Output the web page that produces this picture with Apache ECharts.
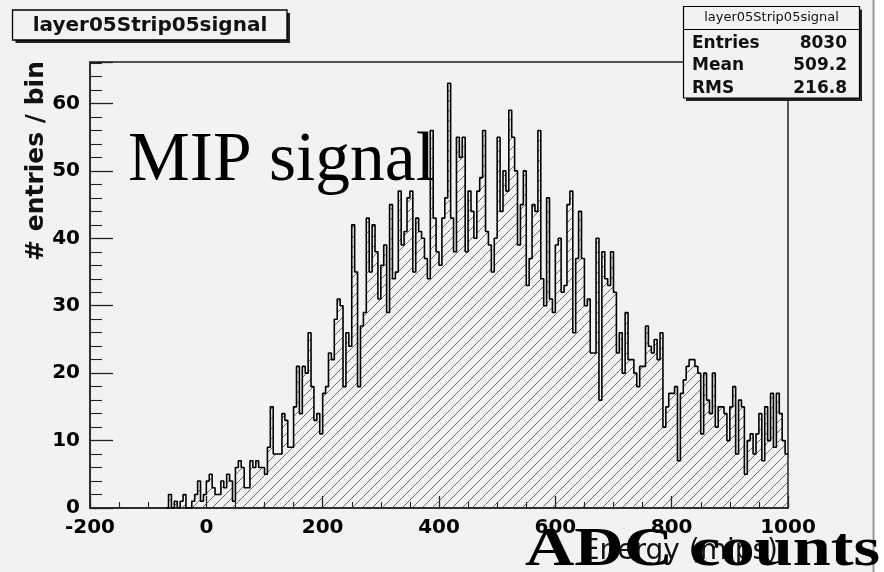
<!DOCTYPE html>
<html>
<head>
<meta charset="utf-8">
<title>layer05Strip05signal</title>
<script src="https://cdn.jsdelivr.net/npm/echarts/dist/echarts.min.js"></script>
<style>
  html, body { margin: 0; padding: 0; background: #f2f2f2; }
  #chart { width: 884px; height: 572px; }
</style>
</head>
<body>
<div id="chart"></div>
<script>
// Histogram binning: 5-unit bins starting at -70
const binLow = -70;
const binWidth = 5;

// Entries per bin, from -70 up to 1000
const counts = [
  0, 2, 0, 1, 0, 1, 2, 0, 0, 1,
  2, 4, 1, 2, 4, 5, 3, 2, 2, 4,
  3, 5, 4, 1, 6, 7, 6, 3, 3, 7,
  6, 7, 6, 6, 5, 9, 15, 8, 8, 8,
  14, 13, 9, 9, 15, 21, 14, 21, 20, 26,
  18, 13, 14, 11, 17, 18, 23, 22, 28, 31,
  30, 18, 26, 24, 42, 35, 18, 27, 29, 43,
  35, 42, 38, 31, 36, 39, 29, 45, 34, 35,
  47, 39, 41, 46, 47, 35, 43, 41, 40, 37,
  34, 56, 43, 38, 36, 43, 46, 63, 43, 38,
  55, 52, 55, 38, 47, 44, 40, 47, 49, 56,
  41, 39, 35, 40, 55, 44, 50, 47, 59, 55,
  50, 39, 45, 50, 33, 37, 45, 44, 56, 34,
  30, 46, 31, 29, 39, 40, 32, 33, 45, 47,
  26, 37, 44, 37, 30, 31, 23, 23, 40, 16,
  38, 34, 33, 38, 32, 23, 26, 20, 29, 22,
  22, 20, 18, 21, 21, 27, 24, 23, 25, 22,
  26, 12, 15, 17, 17, 18, 7, 17, 19, 21,
  22, 22, 21, 20, 11, 20, 16, 14, 20, 12,
  15, 15, 14, 10, 15, 18, 8, 16, 15, 5,
  10, 11, 8, 11, 14, 7, 15, 10, 17, 9,
  17, 14, 10, 8
];

// Axis ranges
const xRange = [-200, 1000];
const yRange = [0, 66.15];

// Text
const histName = 'layer05Strip05signal';
const statsLabels = ['Entries', 'Mean', 'RMS'];
const statsValues = ['8030', '509.2', '216.8'];
const xTitle = 'Energy (mips)';
const yTitle = '# entries / bin';
const noteTop = 'MIP signal';
const noteBottom = 'ADC counts';

// Step outline points: left edge of each bin, plus the closing edge
const stepPoints = counts.map((c, i) => [binLow + i * binWidth, c]);
stepPoints.push([binLow + counts.length * binWidth, counts[counts.length - 1]]);

// One rectangle per bin for the hatched fill: [low edge, high edge, count]
const binRects = counts.map((c, i) => [binLow + i * binWidth, binLow + (i + 1) * binWidth, c]);

const HATCH_STEP = 10;      // horizontal distance between hatch lines, px
const HATCH_COLOR = 'rgba(255,0,0,0.85)';

// Fill a bin with "/" hatch lines (x + y = const in pixel space), clipped to the bin
function renderHatchedBin(params, api) {
  const top = api.coord([api.value(0), api.value(2)]);
  const base = api.coord([api.value(1), 0]);
  const x0 = top[0], x1 = base[0], yt = top[1], yb = base[1];
  if (yb - yt < 0.5) return null;
  const children = [];
  const cStart = Math.ceil((x0 + yt) / HATCH_STEP) * HATCH_STEP;
  for (let c = cStart; c <= x1 + yb; c += HATCH_STEP) {
    const xa = Math.max(x0, c - yb);
    const xb = Math.min(x1, c - yt);
    if (xb <= xa) continue;
    children.push({
      type: 'line',
      shape: { x1: xa, y1: c - xa, x2: xb, y2: c - xb },
      style: { stroke: HATCH_COLOR, lineWidth: 1 }
    });
  }
  return { type: 'group', children: children };
}

function textWidth(str, font) {
  const ctx = document.createElement('canvas').getContext('2d');
  ctx.font = font;
  return ctx.measureText(str).width;
}

const topFont = '70px "Liberation Serif"';
const bottomFont = 'bold 54px "Liberation Serif"';
const topScale = 307 / textWidth(noteTop, topFont);
const bottomScale = 355 / textWidth(noteBottom, bottomFont);

const BG = '#f2f2f2';
const INK = '#111';
const sansBold = '"DejaVu Sans"';

const chart = echarts.init(document.getElementById('chart'), null, { renderer: 'canvas' });

const statsGraphics = [];
statsLabels.forEach((lab, i) => {
  const y = 43.5 + i * 22.4;
  statsGraphics.push({
    type: 'text', z: 102, x: 692, y: y,
    style: { text: lab, font: 'bold 17px ' + sansBold, fill: INK, align: 'left', verticalAlign: 'middle' }
  });
  statsGraphics.push({
    type: 'text', z: 102, x: 847, y: y,
    style: { text: statsValues[i], font: 'bold 17px ' + sansBold, fill: INK, align: 'right', verticalAlign: 'middle' }
  });
});

chart.setOption({
  animation: false,
  backgroundColor: BG,
  grid: {
    left: 90, right: 96, top: 62, bottom: 64,
    show: true, borderColor: '#222', borderWidth: 1.5, backgroundColor: 'transparent'
  },
  xAxis: {
    type: 'value',
    min: xRange[0], max: xRange[1], interval: 200,
    axisLine: { show: true, onZero: false, lineStyle: { color: '#222', width: 1.5 } },
    axisTick: { show: true, inside: true, length: 12, lineStyle: { color: '#222', width: 1.3 } },
    minorTick: { show: true, splitNumber: 4, length: 6, lineStyle: { color: '#222', width: 1.1 } },
    axisLabel: {
      color: '#000', fontFamily: 'DejaVu Sans', fontWeight: 'bold', fontSize: 20, margin: 10,
      formatter: v => String(v)
    },
    splitLine: { show: false }
  },
  yAxis: {
    type: 'value',
    min: yRange[0], max: yRange[1], interval: 10,
    axisLine: { show: true, onZero: false, lineStyle: { color: '#222', width: 1.5 } },
    axisTick: { show: true, inside: true, length: 23, lineStyle: { color: '#222', width: 1.3 } },
    minorTick: { show: true, splitNumber: 5, length: 12, lineStyle: { color: '#222', width: 1.1 } },
    axisLabel: {
      color: '#000', fontFamily: 'DejaVu Sans', fontWeight: 'bold', fontSize: 20, margin: 10,
      showMaxLabel: false, formatter: v => String(v)
    },
    splitLine: { show: false }
  },
  series: [
    {
      type: 'custom',
      name: histName + ' fill',
      data: binRects,
      renderItem: renderHatchedBin,
      silent: true,
      z: 2
    },
    {
      type: 'line',
      name: histName,
      step: 'end',
      data: stepPoints,
      symbol: 'none',
      silent: true,
      z: 3,
      lineStyle: { color: '#000', width: 1.6 }
    }
  ],
  graphic: [
    // page edge on the right
    { type: 'rect', z: 1, shape: { x: 875, y: 0, width: 9, height: 572 }, style: { fill: '#ffffff' } },
    { type: 'line', z: 2, shape: { x1: 873.5, y1: 0, x2: 873.5, y2: 572 }, style: { stroke: '#9a9a9a', lineWidth: 2 } },

    // histogram title box with shadow
    { type: 'rect', z: 100, shape: { x: 15.5, y: 13, width: 274.5, height: 30 }, style: { fill: '#222' } },
    { type: 'rect', z: 101, shape: { x: 12.5, y: 10, width: 274.5, height: 30 }, style: { fill: BG, stroke: '#000', lineWidth: 1.3 } },
    { type: 'text', z: 102, x: 150, y: 25.5,
      style: { text: histName, font: 'bold 20px ' + sansBold, fill: INK, align: 'center', verticalAlign: 'middle' } },

    // statistics box with shadow
    { type: 'rect', z: 100, shape: { x: 686, y: 9.5, width: 176, height: 91.5 }, style: { fill: '#222' } },
    { type: 'rect', z: 101, shape: { x: 683.5, y: 6.5, width: 176, height: 91.5 }, style: { fill: BG, stroke: '#000', lineWidth: 1.2 } },
    { type: 'line', z: 102, shape: { x1: 683.5, y1: 29.5, x2: 859.5, y2: 29.5 }, style: { stroke: '#000', lineWidth: 1.1 } },
    { type: 'text', z: 102, x: 771.5, y: 18,
      style: { text: histName, font: '13px "DejaVu Sans"', fill: INK, align: 'center', verticalAlign: 'middle' } },
    ...statsGraphics,

    // axis titles
    { type: 'text', z: 50, x: 36, y: 161, rotation: Math.PI / 2,
      style: { text: yTitle, font: 'bold 25px ' + sansBold, fill: INK, align: 'center', verticalAlign: 'middle' } },
    { type: 'text', z: 50, x: 778, y: 552,
      style: { text: xTitle, font: '28px "DejaVu Sans"', fill: INK, align: 'right', verticalAlign: 'middle' } },

    // annotations
    { type: 'text', z: 60, x: 128, y: 161.5, scaleX: topScale,
      style: { text: noteTop, font: topFont, fill: '#000', align: 'left', verticalAlign: 'middle' } },
    { type: 'text', z: 60, x: 525, y: 551.5, scaleX: bottomScale,
      style: { text: noteBottom, font: bottomFont, fill: '#000', align: 'left', verticalAlign: 'middle' } }
  ]
});
</script>
</body>
</html>
